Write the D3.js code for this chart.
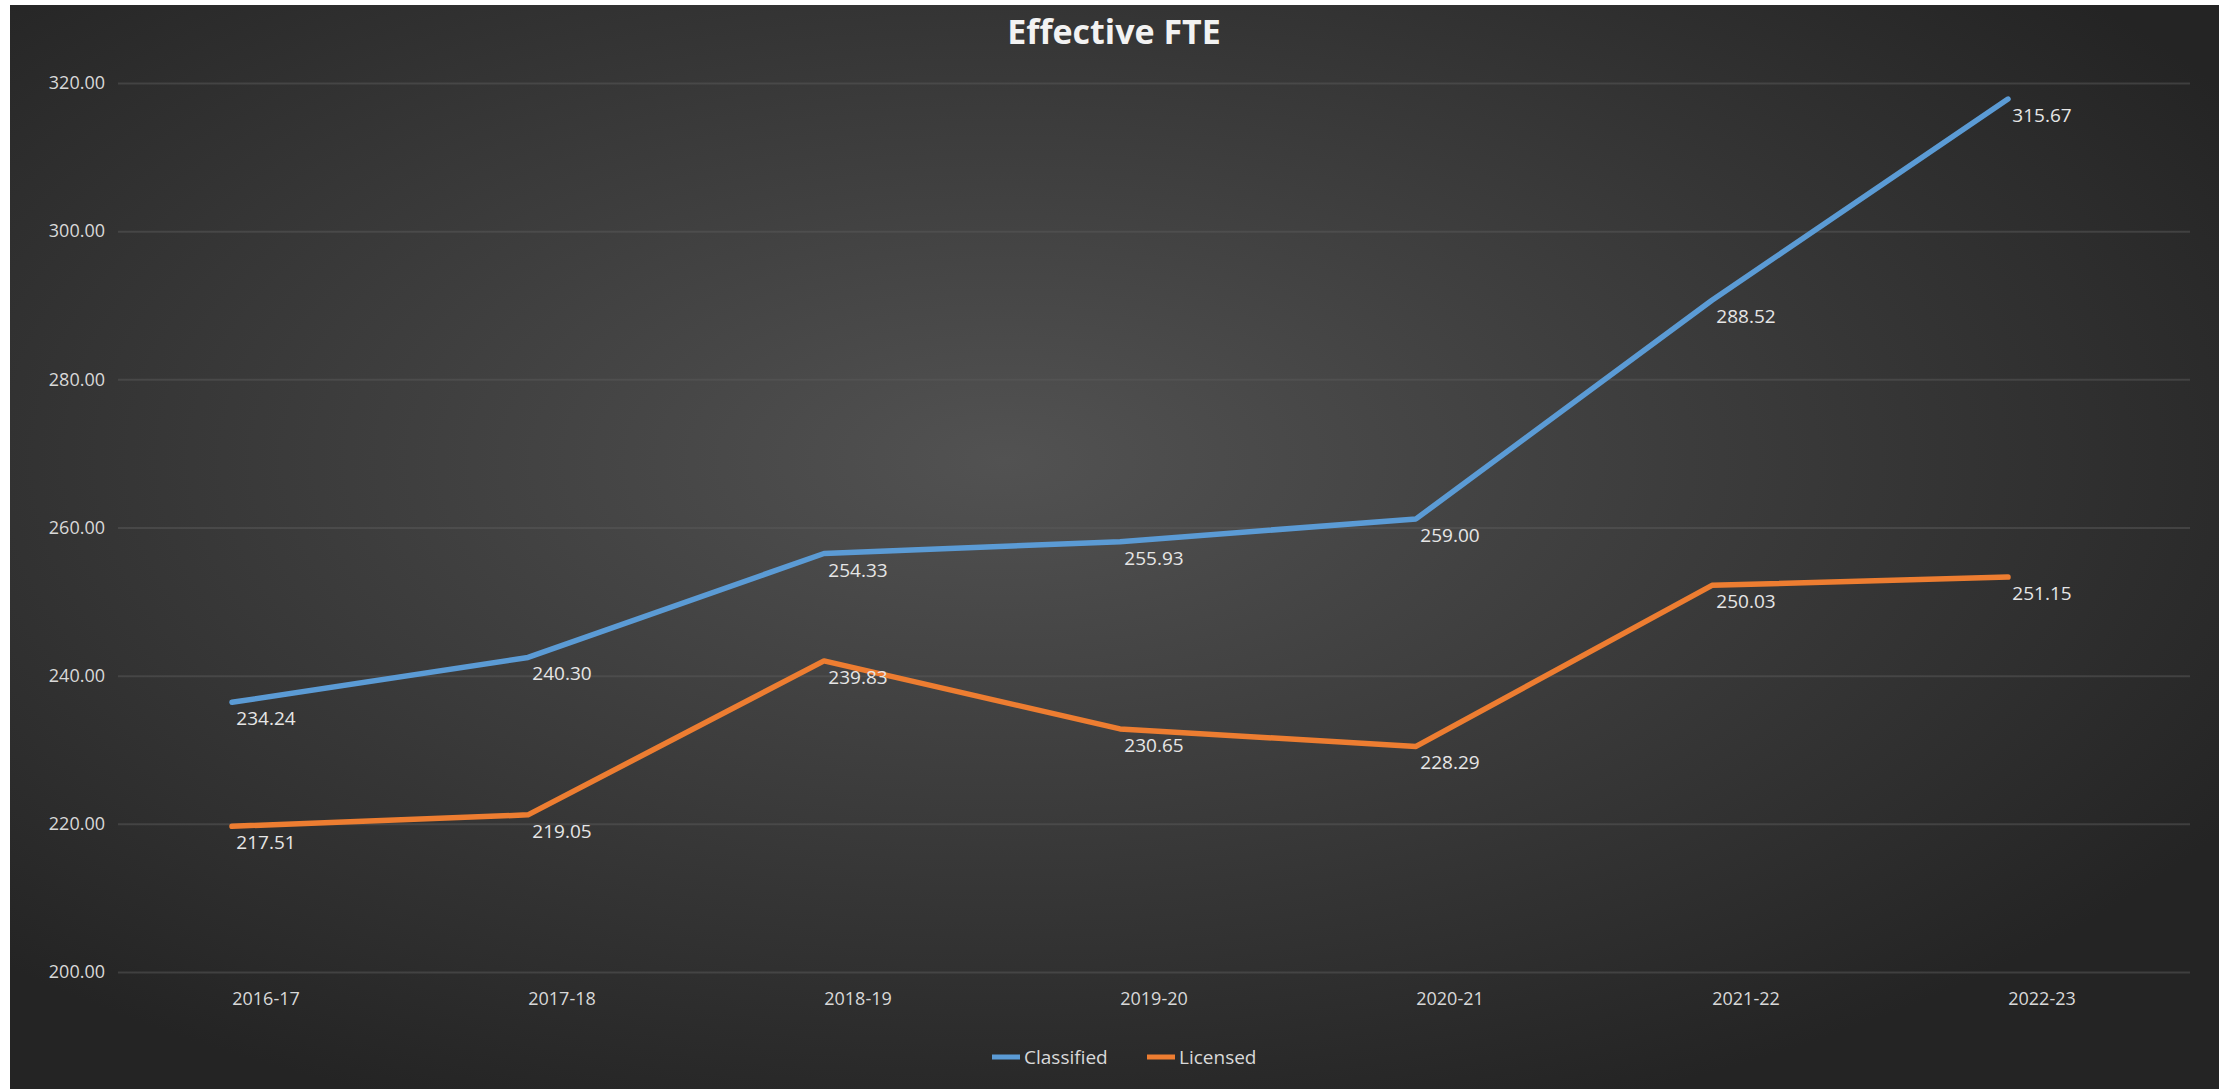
<!DOCTYPE html>
<html>
<head>
<meta charset="utf-8">
<script src="https://cdn.jsdelivr.net/npm/d3@7"></script>
<style>
  body { margin: 0; background: #fff; }
  svg { display: block; }
  text { font-family: "Open Sans", "Liberation Sans", sans-serif; }
</style>
</head>
<body>
<svg id="chart" width="2231" height="1089"></svg>
<script>
// data
const years = ["2016-17", "2017-18", "2018-19", "2019-20", "2020-21", "2021-22", "2022-23"];
const classified = [234.24, 240.30, 254.33, 255.93, 259.00, 288.52, 315.67];
const licensed = [217.51, 219.05, 239.83, 230.65, 228.29, 250.03, 251.15];
const yTicks = [200, 220, 240, 260, 280, 300, 320];
const seriesNames = ["Classified", "Licensed"];
const seriesColors = ["#5b9bd5", "#ed7d31"];

const width = 2231, height = 1089;
const svg = d3.select("#chart");

// background of the chart area
const defs = svg.append("defs");
const grad = defs.append("radialGradient")
    .attr("id", "bg")
    .attr("cx", "45%").attr("cy", "42%").attr("r", "65%");
grad.append("stop").attr("offset", "0%").attr("stop-color", "#525252");
grad.append("stop").attr("offset", "100%").attr("stop-color", "#242424");

svg.append("rect")
    .attr("x", 10).attr("y", 5)
    .attr("width", 2209).attr("height", height - 5)
    .attr("fill", "url(#bg)");

let x = d3.scaleBand()
    .domain(years)
    .range([118, 2190])
    .padding(0);

let y = d3.scaleLinear()
    .domain([200, 320])
    .range([972, 83]);

const cx = d => x(d) + x.bandwidth() / 2;

// title
svg.append("text")
    .attr("x", 1114)
    .attr("y", 44)
    .attr("text-anchor", "middle")
    .attr("font-size", 34)
    .attr("font-weight", 700)
    .attr("fill", "#f2f2f2")
    .text("Effective FTE");

// gridlines + y labels
const yAxis = d3.axisLeft(y)
    .tickValues(yTicks)
    .tickFormat(d3.format(".2f"))
    .tickSize(-(2190 - 118))
    .tickPadding(13);

const gy = svg.append("g")
    .attr("transform", "translate(118,0)")
    .call(yAxis);
gy.select(".domain").remove();
gy.selectAll(".tick line")
    .attr("stroke", "#5a5a5a")
    .attr("stroke-opacity", 0.5)
    .attr("stroke-width", 2);
gy.selectAll(".tick text")
    .attr("fill", "#d9d9d9")
    .attr("font-size", 18);

// x labels
const xAxis = d3.axisBottom(x).tickSize(0).tickPadding(20);
const gx = svg.append("g")
    .attr("transform", "translate(0,972)")
    .call(xAxis);
gx.select(".domain").remove();
gx.selectAll(".tick text")
    .attr("fill", "#d9d9d9")
    .attr("font-size", 18);

// the line layer sits a little off the axes in the reference picture
const lineShift = [-34, -16];

const line = d3.line()
    .x((d, i) => cx(years[i]))
    .y(d => y(d));

const series = [classified, licensed];

const lines = svg.append("g")
    .attr("transform", `translate(${lineShift[0]},${lineShift[1]})`);

lines.selectAll("path")
    .data(series)
    .enter().append("path")
    .attr("d", d => line(d))
    .attr("fill", "none")
    .attr("stroke", (d, i) => seriesColors[i])
    .attr("stroke-width", 5.5)
    .attr("stroke-linejoin", "round")
    .attr("stroke-linecap", "round");

// data labels
const labels = svg.append("g");
series.forEach((vals, s) => {
    labels.selectAll(".lbl" + s)
        .data(vals)
        .enter().append("text")
        .attr("class", "lbl" + s)
        .attr("x", (d, i) => cx(years[i]))
        .attr("y", d => y(d) + 7)
        .attr("text-anchor", "middle")
        .attr("font-size", 19)
        .attr("fill", "#e6e6e6")
        .text(d => d3.format(".2f")(d));
});

// legend
const legend = svg.append("g").attr("transform", "translate(992,1057)");
const legendX = [0, 155];
seriesNames.forEach((name, i) => {
    const g = legend.append("g").attr("transform", `translate(${legendX[i]},0)`);
    g.append("line")
        .attr("x1", 0).attr("x2", 28)
        .attr("y1", 0).attr("y2", 0)
        .attr("stroke", seriesColors[i])
        .attr("stroke-width", 5);
    g.append("text")
        .attr("x", 32)
        .attr("y", 7)
        .attr("font-size", 19)
        .attr("fill", "#d9d9d9")
        .text(name);
});
</script>
</body>
</html>
